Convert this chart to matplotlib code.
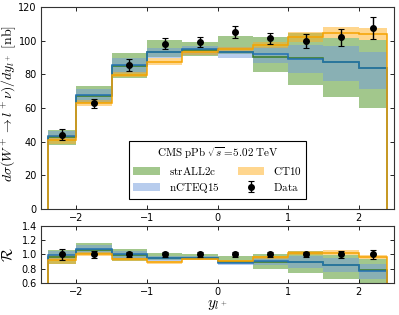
import numpy as np
import matplotlib
matplotlib.use("Agg")
import matplotlib.pyplot as plt

plt.rcParams['mathtext.fontset'] = 'cm'
plt.rcParams['xtick.direction'] = 'in'
plt.rcParams['ytick.direction'] = 'in'
plt.rcParams['xtick.top'] = True
plt.rcParams['ytick.right'] = True

# rapidity bins
edges = np.array([-2.4, -2.0, -1.5, -1.0, -0.5, 0.0, 0.5, 1.0, 1.5, 2.0, 2.4])
y_data = np.array([-2.2, -1.75, -1.25, -0.75, -0.25, 0.25, 0.75, 1.25, 1.75, 2.2])

# CMS data [nb]
data = np.array([44.2, 62.8, 85.6, 98.1, 99.2, 105.0, 101.4, 99.8, 102.0, 107.7])
data_err = np.array([3.2, 2.8, 3.5, 3.3, 3.2, 3.7, 3.3, 3.9, 4.9, 6.6])

# strALL2c
str_c = np.array([42.5, 67.0, 85.0, 93.0, 94.5, 93.5, 90.5, 89.5, 87.5, 84.0])
str_lo = np.array([38.0, 62.8, 78.0, 90.0, 91.0, 92.0, 81.2, 73.7, 66.4, 59.8])
str_hi = np.array([46.8, 73.0, 92.5, 100.6, 99.4, 102.8, 102.4, 104.5, 101.4, 100.4])

# nCTEQ15
nct_c = np.array([43.6, 67.5, 85.6, 93.3, 95.0, 93.0, 91.9, 89.1, 87.1, 83.5])
nct_lo = np.array([41.0, 63.8, 80.6, 89.5, 91.5, 89.5, 86.6, 80.6, 76.3, 71.3])
nct_hi = np.array([46.3, 71.1, 89.5, 95.5, 97.0, 96.0, 96.4, 97.4, 97.0, 93.5])

# CT10
ct_c = np.array([41.0, 62.8, 79.8, 87.2, 93.5, 95.0, 97.6, 102.3, 104.8, 103.8])
ct_lo = np.array([38.6, 61.2, 78.3, 85.6, 91.5, 93.5, 95.5, 99.4, 101.4, 100.4])
ct_hi = np.array([44.0, 64.8, 81.6, 89.5, 95.0, 96.4, 99.4, 105.0, 108.0, 107.3])

green_band, green_line = '#47911a', '#3c7d28'
blue_band, blue_line = '#719bdd', '#2171b5'
orange_band, orange_line = '#ffaf1f', '#f5a300'

fig = plt.figure(figsize=(3.99, 3.15), dpi=100)
ax = fig.add_axes([0.1028, 0.3365, 0.8847, 0.6413])
axr = fig.add_axes([0.1028, 0.1016, 0.8847, 0.181])


def draw(a, scale):
    a.stairs(str_hi / scale, edges, baseline=str_lo / scale, fill=True,
             color=green_band, alpha=0.5, lw=0, label=r'$\mathrm{strALL2c}$')
    a.stairs(nct_hi / scale, edges, baseline=nct_lo / scale, fill=True,
             color=blue_band, alpha=0.5, lw=0, label=r'$\mathrm{nCTEQ15}$')
    a.stairs(ct_hi / scale, edges, baseline=ct_lo / scale, fill=True,
             color=orange_band, alpha=0.5, lw=0, label=r'$\mathrm{CT10}$')
    a.stairs(str_c / scale, edges, baseline=0, color=green_line, lw=1.1)
    a.stairs(nct_c / scale, edges, baseline=0, color=blue_line, lw=1.1)
    a.stairs(ct_c / scale, edges, baseline=0, color=orange_line, lw=1.1)


draw(ax, 1.0)
ax.errorbar(y_data, data, yerr=data_err, fmt='o', color='black', ms=4,
            capsize=2, elinewidth=1, capthick=0.8, label=r'$\mathrm{Data}$')

draw(axr, data)
axr.errorbar(y_data, data / data, yerr=data_err / data, fmt='o', color='black',
             ms=4, capsize=2, elinewidth=1, capthick=0.8)

for a in (ax, axr):
    a.set_xlim(-2.5, 2.5)
    a.set_xticks([-2, -1, 0, 1, 2])
    a.set_xticklabels(['\u22122', '\u22121', '0', '1', '2'])
    a.tick_params(labelsize=7, length=3, width=0.6, pad=3)
    for s in a.spines.values():
        s.set_linewidth(0.8)
        s.set_color('#333333')

ax.set_ylim(0, 120)
ax.set_yticks(np.arange(0, 121, 20))
ax.set_ylabel(r'$d\sigma(W^+\rightarrow l^+\nu)/dy_{l^+}\ [\mathrm{nb}]$',
              fontsize=10)
ax.yaxis.set_label_coords(-0.066, 0.52)

axr.set_ylim(0.6, 1.4)
axr.set_yticks([0.6, 0.8, 1.0, 1.2, 1.4])
axr.set_ylabel(r'$\mathcal{R}$', fontsize=11)
axr.yaxis.set_label_coords(-0.072, 0.5)
axr.set_xlabel(r'$y_{l^+}$', fontsize=11, labelpad=0)

h, l = ax.get_legend_handles_labels()
leg = ax.legend(h, l, ncol=2, loc='lower center', bbox_to_anchor=(0.5, 0.02),
                title=r'$\mathrm{CMS\ pPb}\ \sqrt{s}=\!5.02\ \mathrm{TeV}$',
                fontsize=8, title_fontsize=8, fancybox=False, edgecolor='black',
                framealpha=1, handlelength=2.4, handleheight=0.8,
                columnspacing=1.6, borderpad=0.4, labelspacing=0.35)
leg.get_frame().set_linewidth(0.8)

fig.savefig('out.png', dpi=100)
